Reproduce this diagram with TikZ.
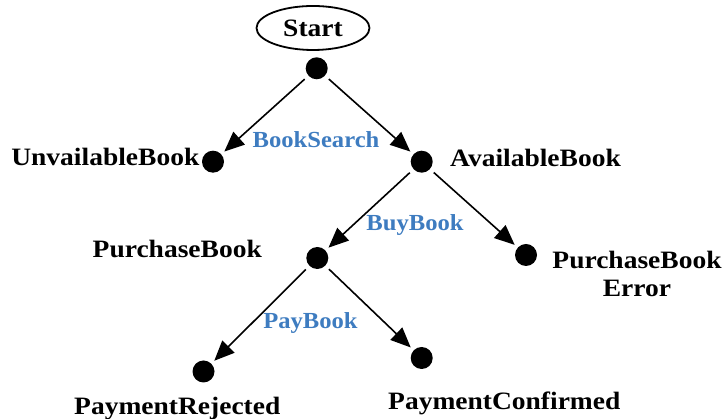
\documentclass[tikz,border=0pt]{standalone}
\usepackage{fontspec}
\usepackage{graphicx}
\setmainfont{Liberation Serif}
\usetikzlibrary{arrows.meta,shapes.geometric}
\definecolor{lblblue}{RGB}{62,124,192}
\newcommand\widetxt[1]{\scalebox{1.1}[1]{#1}}
\newcommand\widelbl[1]{\scalebox{1.07}[1]{#1}}
\tikzset{
  dot/.style={circle,fill=black,draw=none,minimum size=22pt,inner sep=0pt},
  statetxt/.style={inner sep=0pt,font=\fontsize{25}{28}\selectfont\bfseries},
  edgelbl/.style={inner sep=0pt,text=lblblue,font=\fontsize{23}{26}\selectfont\bfseries},
  conn/.style={line width=1.6pt,-{Triangle[length=20pt,width=17pt]},shorten <=5pt,shorten >=4pt},
}
\begin{document}
\begin{tikzpicture}[x=1pt,y=1pt]
\useasboundingbox (0,0) rectangle (726,419);
% start
\node[ellipse,draw,line width=1.8pt,minimum width=113pt,minimum height=44pt,inner sep=0pt,font=\fontsize{25}{28}\selectfont\bfseries] (start) at (313,391) {\widetxt{Start}};
% dots
\node[dot] (d0) at (316.7,350.7) {};
\node[dot] (dU) at (213,257.3) {};
\node[dot] (dA) at (421.7,257.3) {};
\node[dot] (dP) at (317.3,161) {};
\node[dot] (dE) at (526,164) {};
\node[dot] (dR) at (203.5,47.5) {};
\node[dot] (dC) at (421.7,61) {};
% state labels
\node[statetxt,anchor=base east] (lU) at (199.5,253) {\widetxt{UnvailableBook}};
\node[statetxt,anchor=base west] (lA) at (450,252.5) {\widetxt{AvailableBook}};
\node[statetxt,anchor=base east] (lP) at (262,161) {\widetxt{PurchaseBook}};
\node[statetxt,anchor=north,align=center] (lE) at (637,168) {\widetxt{PurchaseBook}\\\widetxt{Error}};
\node[statetxt,anchor=base west] (lR) at (74,4) {\widetxt{PaymentRejected}};
\node[statetxt,anchor=base west] (lC) at (388,9.5) {\widetxt{PaymentConfirmed}};
% edge labels
\node[edgelbl] (bs) at (316,279) {\widelbl{BookSearch}};
\node[edgelbl] (bb) at (415,194) {\widelbl{BuyBook}};
\node[edgelbl] (pb) at (310.5,96) {\widelbl{PayBook}};
% connectors
\draw[conn] (d0) -- (dU);
\draw[conn] (d0) -- (dA);
\draw[conn] (dA) -- (dP);
\draw[conn] (dA) -- (dE);
\draw[conn] (dP) -- (dR);
\draw[conn] (dP) -- (dC);
\end{tikzpicture}
\end{document}
